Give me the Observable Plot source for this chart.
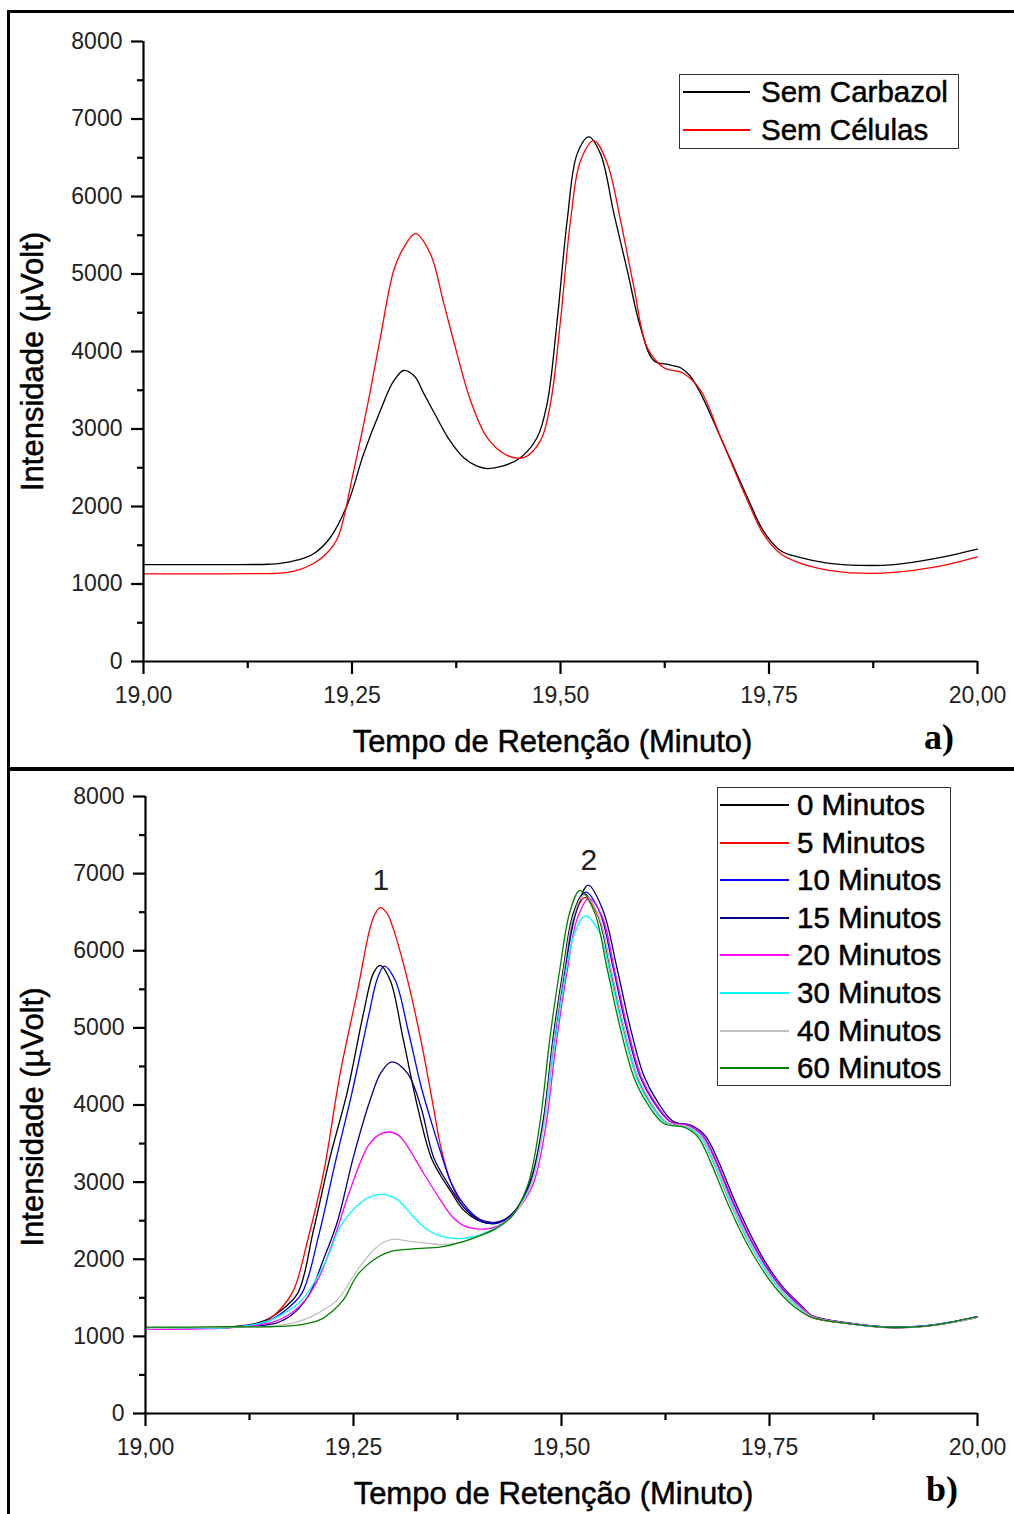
<!DOCTYPE html>
<html><head><meta charset="utf-8">
<script src="https://cdn.jsdelivr.net/npm/d3@7"></script>
<script src="https://cdn.jsdelivr.net/npm/@observablehq/plot@0.6"></script>
<style>
body{margin:0;background:#fff;}
#page{position:relative;width:1014px;height:1514px;overflow:hidden;background:#fff;font-family:"Liberation Sans",Arial,sans-serif;}
.chart{position:absolute;left:0;}
.bar{position:absolute;background:#000;}
.legend{position:absolute;border:1.5px solid #333;background:#fff;box-sizing:border-box;}
.lline{position:absolute;height:2px;}
.ltext{position:absolute;font-size:29.5px;line-height:30px;white-space:nowrap;color:#000;transform:translateY(-50%);-webkit-text-stroke:0.5px #000;}
.tag{position:absolute;font-family:"Liberation Serif","Times New Roman",serif;font-weight:bold;font-size:36px;line-height:36px;color:#000;}
</style></head>
<body><div id="page"></div>
<script>
// ---------- data ----------
const xTicks = [19, 19.25, 19.5, 19.75, 20];
const xMinorTicks = [19.125, 19.375, 19.625, 19.875];
const yTicks = [0, 1000, 2000, 3000, 4000, 5000, 6000, 7000, 8000];
const yMinorTicks = [500, 1500, 2500, 3500, 4500, 5500, 6500, 7500];
const xTitle = "Tempo de Retenção (Minuto)";
const yTitle = "Intensidade (µVolt)";

// panel a
const semCarbazol = [[19.00,1250],[19.10,1250],[19.15,1255],[19.164,1265],[19.185,1310],[19.204,1390],[19.224,1600],[19.245,2040],[19.264,2680],[19.284,3240],[19.300,3620],[19.312,3755],[19.325,3680],[19.336,3460],[19.350,3180],[19.365,2890],[19.384,2630],[19.400,2520],[19.412,2490],[19.430,2520],[19.452,2630],[19.472,2890],[19.484,3330],[19.496,4400],[19.508,5690],[19.520,6550],[19.534,6770],[19.548,6550],[19.564,5780],[19.580,5050],[19.596,4310],[19.612,3880],[19.630,3830],[19.644,3790],[19.655,3690],[19.668,3460],[19.692,2890],[19.724,2120],[19.743,1690],[19.764,1430],[19.788,1340],[19.82,1270],[19.86,1240],[19.90,1250],[19.95,1330],[20.00,1450]];
const semCelulas = [[19.00,1130],[19.10,1130],[19.15,1135],[19.164,1140],[19.185,1180],[19.204,1265],[19.220,1400],[19.233,1600],[19.252,2460],[19.269,3330],[19.284,4180],[19.300,5045],[19.312,5340],[19.326,5520],[19.344,5260],[19.360,4620],[19.376,3970],[19.392,3370],[19.412,2890],[19.436,2660],[19.456,2630],[19.476,2850],[19.488,3330],[19.500,4400],[19.512,5690],[19.524,6460],[19.540,6720],[19.556,6430],[19.572,5690],[19.588,4830],[19.604,4050],[19.624,3790],[19.647,3720],[19.668,3500],[19.692,2890],[19.724,2080],[19.743,1650],[19.764,1390],[19.788,1265],[19.82,1180],[19.86,1140],[19.90,1150],[19.95,1220],[20.00,1350]];
const namesA = ["Sem Carbazol", "Sem Células"];
const colorsA = ["#000000", "#ff0000"];

// panel b
const min0 = [[19.00,1100],[19.05,1110],[19.10,1120],[19.14,1190],[19.162,1330],[19.183,1560],[19.202,2380],[19.222,3330],[19.243,4190],[19.262,5190],[19.274,5710],[19.282,5810],[19.294,5620],[19.310,4840],[19.327,3975],[19.343,3330],[19.355,3080],[19.367,2880],[19.382,2640],[19.403,2490],[19.423,2470],[19.442,2600],[19.463,3030],[19.478,3800],[19.490,4880],[19.502,5750],[19.514,6480],[19.527,6740],[19.543,6480],[19.559,5750],[19.575,4970],[19.591,4360],[19.607,4030],[19.627,3770],[19.651,3720],[19.667,3590],[19.683,3250],[19.703,2730],[19.724,2250],[19.743,1900],[19.763,1605],[19.784,1385],[19.799,1255],[19.85,1160],[19.90,1115],[19.95,1150],[20.00,1250]];
const min5 = [[19.00,1090],[19.05,1100],[19.10,1115],[19.14,1170],[19.16,1330],[19.178,1600],[19.195,2250],[19.214,3120],[19.234,4410],[19.255,5490],[19.270,6300],[19.276,6480],[19.282,6560],[19.290,6490],[19.298,6280],[19.315,5620],[19.331,4840],[19.346,3975],[19.355,3450],[19.367,3000],[19.382,2680],[19.403,2510],[19.423,2480],[19.442,2600],[19.463,3000],[19.478,3720],[19.490,4780],[19.502,5650],[19.514,6400],[19.528,6690],[19.545,6430],[19.560,5720],[19.576,4960],[19.592,4350],[19.608,4020],[19.628,3760],[19.652,3715],[19.668,3590],[19.684,3250],[19.704,2730],[19.725,2250],[19.744,1895],[19.764,1600],[19.785,1380],[19.80,1250],[19.85,1160],[19.90,1110],[19.95,1145],[20.00,1245]];
const min10 = [[19.00,1100],[19.05,1105],[19.10,1115],[19.145,1190],[19.167,1330],[19.188,1560],[19.208,2300],[19.228,3250],[19.249,4200],[19.268,5150],[19.279,5650],[19.287,5800],[19.300,5620],[19.316,4950],[19.331,4250],[19.343,3800],[19.355,3380],[19.367,3000],[19.382,2720],[19.403,2510],[19.423,2480],[19.442,2600],[19.463,3000],[19.478,3750],[19.490,4820],[19.503,5720],[19.516,6470],[19.529,6760],[19.546,6500],[19.562,5780],[19.578,5000],[19.594,4380],[19.610,4050],[19.630,3790],[19.654,3730],[19.670,3600],[19.686,3260],[19.706,2740],[19.727,2260],[19.746,1905],[19.766,1610],[19.787,1390],[19.80,1265],[19.85,1165],[19.90,1120],[19.95,1155],[20.00,1255]];
const min15 = [[19.00,1100],[19.05,1110],[19.10,1120],[19.156,1170],[19.176,1280],[19.196,1530],[19.214,2000],[19.231,2500],[19.250,3330],[19.270,4065],[19.283,4420],[19.296,4560],[19.315,4410],[19.331,3975],[19.346,3330],[19.363,2990],[19.382,2680],[19.403,2490],[19.423,2470],[19.442,2600],[19.463,2990],[19.478,3720],[19.491,4800],[19.504,5740],[19.518,6520],[19.532,6850],[19.550,6520],[19.567,5760],[19.583,4990],[19.599,4380],[19.615,4050],[19.634,3790],[19.657,3730],[19.673,3600],[19.689,3260],[19.709,2740],[19.730,2260],[19.748,1910],[19.768,1615],[19.789,1390],[19.80,1275],[19.85,1165],[19.90,1120],[19.95,1150],[20.00,1255]];
const min20 = [[19.00,1090],[19.05,1095],[19.10,1110],[19.152,1180],[19.172,1280],[19.192,1470],[19.210,1800],[19.226,2250],[19.246,2900],[19.267,3460],[19.280,3610],[19.292,3650],[19.305,3600],[19.315,3460],[19.334,3120],[19.355,2760],[19.368,2560],[19.382,2440],[19.403,2390],[19.423,2430],[19.442,2580],[19.465,2950],[19.480,3650],[19.493,4750],[19.506,5680],[19.519,6420],[19.533,6680],[19.549,6440],[19.564,5740],[19.580,4970],[19.596,4360],[19.612,4040],[19.632,3780],[19.655,3725],[19.671,3595],[19.687,3255],[19.707,2735],[19.728,2255],[19.747,1905],[19.767,1610],[19.788,1390],[19.80,1270],[19.85,1165],[19.90,1115],[19.95,1150],[20.00,1255]];
const min30 = [[19.00,1100],[19.05,1110],[19.10,1115],[19.145,1190],[19.165,1290],[19.185,1440],[19.200,1650],[19.219,2030],[19.234,2420],[19.255,2700],[19.270,2810],[19.285,2840],[19.303,2770],[19.322,2550],[19.339,2380],[19.355,2300],[19.368,2275],[19.382,2270],[19.403,2320],[19.423,2420],[19.442,2580],[19.463,2960],[19.478,3680],[19.491,4720],[19.503,5580],[19.515,6200],[19.528,6450],[19.545,6250],[19.560,5620],[19.576,4880],[19.592,4300],[19.607,4000],[19.627,3750],[19.651,3710],[19.667,3585],[19.683,3245],[19.703,2725],[19.724,2245],[19.743,1895],[19.763,1600],[19.784,1380],[19.80,1255],[19.85,1160],[19.90,1115],[19.95,1150],[20.00,1250]];
const min40 = [[19.00,1100],[19.05,1110],[19.10,1120],[19.15,1130],[19.18,1180],[19.20,1260],[19.215,1350],[19.231,1476],[19.255,1864],[19.274,2120],[19.288,2230],[19.300,2260],[19.315,2235],[19.339,2210],[19.355,2190],[19.382,2230],[19.403,2310],[19.423,2410],[19.442,2570],[19.463,2960],[19.478,3700],[19.490,4780],[19.502,5680],[19.514,6430],[19.527,6720],[19.544,6470],[19.560,5740],[19.576,4965],[19.592,4355],[19.608,4025],[19.628,3765],[19.652,3720],[19.668,3590],[19.684,3250],[19.704,2730],[19.725,2250],[19.744,1900],[19.764,1605],[19.785,1385],[19.80,1260],[19.85,1160],[19.90,1115],[19.95,1150],[20.00,1250]];
const min60 = [[19.00,1120],[19.05,1120],[19.10,1125],[19.15,1125],[19.186,1150],[19.210,1217],[19.225,1330],[19.238,1476],[19.255,1800],[19.274,1990],[19.294,2100],[19.322,2135],[19.355,2160],[19.382,2230],[19.403,2310],[19.423,2410],[19.442,2580],[19.460,2980],[19.474,3760],[19.486,4860],[19.498,5760],[19.510,6500],[19.522,6780],[19.539,6520],[19.555,5760],[19.571,4980],[19.587,4360],[19.603,4020],[19.623,3760],[19.648,3710],[19.664,3585],[19.680,3240],[19.700,2720],[19.721,2240],[19.740,1890],[19.760,1595],[19.781,1375],[19.80,1250],[19.85,1160],[19.90,1115],[19.95,1150],[20.00,1255]];
const namesB = ["0 Minutos","5 Minutos","10 Minutos","15 Minutos","20 Minutos","30 Minutos","40 Minutos","60 Minutos"];
const colorsB = ["#000000","#ff0000","#0000ff","#000080","#ff00ff","#00ffff","#c0c0c0","#008000"];
const peakLabels = ["1", "2"];
const peakLabelT = [19.283, 19.533];
const peakLabelV = [6910, 7170];

// ---------- drawing ----------
const page = document.getElementById("page");
const fmtX = d => d.toFixed(2).replace(".", ",");
const fmtY = d => String(d);

function makePanel(seriesList, colors, geom, extraMarks) {
  const marks = [];
  seriesList.forEach((s, i) => {
    marks.push(Plot.line(s, {x: d => d[0], y: d => d[1], stroke: colors[i], strokeWidth: 1.3, curve: "catmull-rom"}));
  });
  marks.push(
    Plot.ruleX([19], {strokeWidth: 2.2, stroke: "#000"}),
    Plot.ruleY([0], {strokeWidth: 2.2, stroke: "#000"}),
    Plot.axisX({ticks: xTicks, tickSize: 13, tickPadding: 12, tickFormat: fmtX, strokeWidth: 2.2, fontSize: 23, fill: "#222"}),
    Plot.axisX({ticks: xMinorTicks, tickSize: 7, tickFormat: () => "", strokeWidth: 2.2}),
    Plot.axisY({ticks: yTicks, tickSize: 12, tickPadding: 9, tickFormat: fmtY, strokeWidth: 2.2, fontSize: 23, fill: "#222"}),
    Plot.axisY({ticks: yMinorTicks, tickSize: 6, tickFormat: () => "", strokeWidth: 2.2}),
    Plot.text([xTitle], {frameAnchor: "bottom", dx: -8, dy: 90, text: d => d, fontSize: 31, fill: "#000", stroke: "#000", strokeWidth: 0.5}),
    Plot.text([yTitle], {frameAnchor: "left", dx: geom.ytDx, dy: geom.ytDy, text: d => d, rotate: -90, textAnchor: "middle", fontSize: 31, fill: "#000", stroke: "#000", strokeWidth: 0.5}),
    ...extraMarks
  );
  const svg = Plot.plot({
    width: 1014, height: geom.h,
    marginLeft: geom.ml, marginRight: 37, marginTop: geom.mt, marginBottom: geom.mb,
    x: {domain: [19, 20]},
    y: {domain: [0, 8000]},
    style: {fontFamily: "'Liberation Sans', Arial, sans-serif", fontSize: "23px", color: "#000", background: "transparent", overflow: "visible"},
    marks
  });
  svg.classList.add("chart");
  svg.style.top = geom.top + "px";
  page.appendChild(svg);
}

makePanel([semCarbazol, semCelulas], colorsA,
  {h: 768, ml: 143, mt: 41, mb: 107, top: 0, ytDx: -110, ytDy: 10}, []);

makePanel([min0, min5, min10, min15, min20, min30, min40, min60], colorsB,
  {h: 744, ml: 145, mt: 26, mb: 101, top: 770, ytDx: -112, ytDy: 12},
  [Plot.text(peakLabels, {x: (d, i) => peakLabelT[i], y: (d, i) => peakLabelV[i], text: d => d, fontSize: 30, fill: "#222"})]);

// frame bars
function bar(l, t, w, h) { const d = document.createElement("div"); d.className = "bar"; Object.assign(d.style, {left: l+"px", top: t+"px", width: w+"px", height: h+"px"}); page.appendChild(d); }
bar(7, 10, 1007, 3);
bar(7, 10, 3, 1504);
bar(7, 767, 1007, 4);

// legends
function legend(box, names, colors, rowTop, rowStep, lineL, lineR, textL) {
  const b = document.createElement("div"); b.className = "legend";
  Object.assign(b.style, {left: box[0]+"px", top: box[1]+"px", width: box[2]+"px", height: box[3]+"px"});
  page.appendChild(b);
  names.forEach((n, i) => {
    const y = Math.round(rowTop + i * rowStep);
    const ln = document.createElement("div"); ln.className = "lline";
    Object.assign(ln.style, {left: lineL+"px", top: (y-1)+"px", width: (lineR-lineL)+"px", background: colors[i]});
    page.appendChild(ln);
    const tx = document.createElement("div"); tx.className = "ltext"; tx.textContent = n;
    Object.assign(tx.style, {left: textL+"px", top: y+"px"});
    page.appendChild(tx);
  });
}
legend([679, 74, 280, 75], namesA, colorsA, 92, 38, 683, 750, 761);
legend([717, 787, 234, 299], namesB, colorsB, 805, 37.6, 720, 789, 797);

// panel tags
function tag(t, l, tp) { const d = document.createElement("div"); d.className = "tag"; d.textContent = t; Object.assign(d.style, {left: l+"px", top: tp+"px"}); page.appendChild(d); }
tag("a)", 924, 719);
tag("b)", 926, 1471);
</script>
</body></html>
